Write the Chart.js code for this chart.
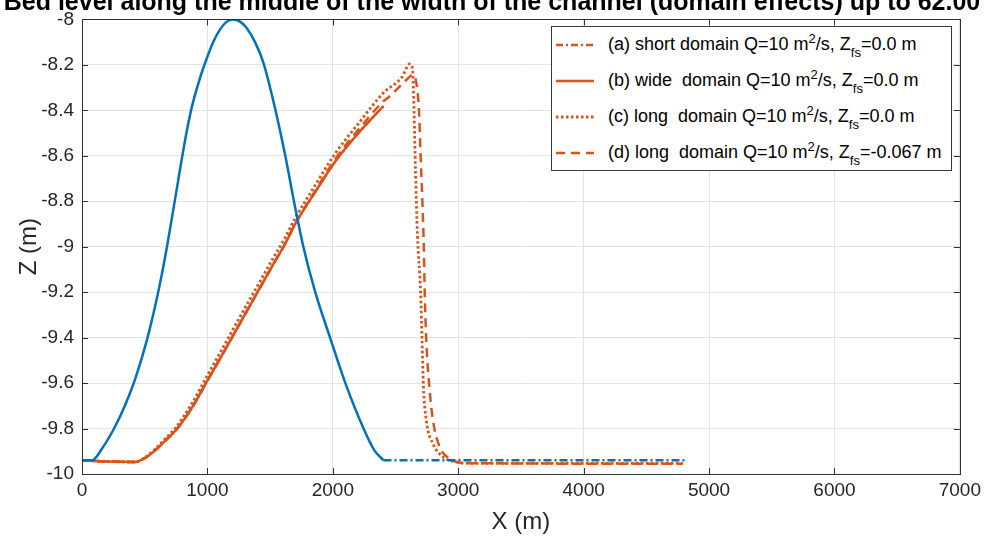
<!DOCTYPE html>
<html>
<head>
<meta charset="utf-8">
<script src="https://cdn.jsdelivr.net/npm/chart.js@4/dist/chart.umd.min.js"></script>
<style>
html,body{margin:0;padding:0;background:#fff;}
#wrap{position:relative;width:986px;height:538px;overflow:hidden;background:#fff;}
#c{position:absolute;left:0;top:0;}
#legend{position:absolute;left:551px;top:26px;width:401px;height:145px;border:1px solid #3a3a3a;background:#fff;box-sizing:border-box;font-family:"Liberation Sans",Arial,sans-serif;font-size:18px;color:#000;}
.row{position:absolute;left:0;width:100%;height:26px;}
.row svg{position:absolute;left:4px;top:5px;}
.row .t{position:absolute;left:56px;top:2px;white-space:pre;line-height:20px;}
.t sup{font-size:13px;vertical-align:0;position:relative;top:-7px;}
.t sub{font-size:13px;vertical-align:0;position:relative;top:7px;}
</style>
</head>
<body>
<div id="wrap">
<canvas id="c" width="986" height="538"></canvas>
<div id="legend"></div>
</div>
<script>
// ---- data ----
const xTicks = [0, 1000, 2000, 3000, 4000, 5000, 6000, 7000];
const zTicks = [-10, -9.8, -9.6, -9.4, -9.2, -9, -8.8, -8.6, -8.4, -8.2, -8];

// initial bed (blue), hump part
const initX = [0, 80, 160, 265, 345, 425, 518, 598, 668, 724, 762, 797, 836, 876, 934, 996, 1050, 1100, 1150, 1205, 1260, 1310, 1380, 1448, 1541, 1620, 1690, 1765, 1860, 1978, 2100, 2245, 2330, 2404];
const initZ = [-9.94, -9.94, -9.888, -9.79, -9.695, -9.58, -9.41, -9.225, -9.03, -8.85, -8.725, -8.61, -8.49, -8.385, -8.27, -8.17, -8.095, -8.045, -8.012, -8.0, -8.01, -8.036, -8.10, -8.193, -8.395, -8.597, -8.80, -9.0, -9.2, -9.4, -9.6, -9.8, -9.895, -9.94];
// initial bed (blue), flat downstream part
const initFlatX = [2404, 4805];
const initFlatZ = [-9.94, -9.94];

// (a) short domain
const shortX = [0, 200, 425, 500, 584, 660, 744, 876, 996, 1116, 1248, 1381, 1514, 1620, 1700, 1859, 2019, 2204, 2404];
const shortZ = [-9.94, -9.945, -9.947, -9.93, -9.896, -9.855, -9.81, -9.709, -9.593, -9.478, -9.348, -9.218, -9.088, -8.987, -8.90, -8.76, -8.625, -8.50, -8.381];

// (b) wide domain
const wideX = [0, 200, 425, 500, 584, 660, 744, 876, 996, 1116, 1248, 1381, 1514, 1620, 1700, 1859, 2019, 2204, 2404];
const wideZ = [-9.94, -9.945, -9.947, -9.93, -9.896, -9.855, -9.81, -9.709, -9.593, -9.478, -9.348, -9.218, -9.088, -8.987, -8.90, -8.76, -8.625, -8.50, -8.381];

// (c) long domain, Zfs = 0.0
const longX = [0, 200, 425, 500, 584, 660, 744, 876, 996, 1116, 1248, 1381, 1514, 1620, 1700, 1859, 2019, 2204, 2404, 2550, 2614, 2636, 2648, 2659, 2675, 2700, 2712, 2722, 2746, 2799, 2879, 2985, 3100, 4790];
const longZ = [-9.94, -9.945, -9.947, -9.928, -9.89, -9.847, -9.798, -9.69, -9.57, -9.452, -9.32, -9.19, -9.06, -8.96, -8.875, -8.73, -8.59, -8.458, -8.323, -8.255, -8.196, -8.22, -8.41, -8.66, -8.95, -9.2, -9.42, -9.607, -9.766, -9.867, -9.925, -9.947, -9.953, -9.953];

// (d) long domain, Zfs = -0.067
const longLowX = [0, 200, 425, 500, 584, 660, 744, 876, 996, 1116, 1248, 1381, 1514, 1620, 1700, 1859, 2019, 2204, 2404, 2454, 2574, 2640, 2661, 2688, 2699, 2712, 2725, 2733, 2746, 2773, 2799, 2853, 2932, 3040, 4790];
const longLowZ = [-9.94, -9.945, -9.947, -9.93, -9.896, -9.855, -9.81, -9.709, -9.593, -9.478, -9.348, -9.218, -9.088, -8.987, -8.90, -8.755, -8.615, -8.485, -8.36, -8.338, -8.273, -8.244, -8.265, -8.41, -8.583, -8.77, -8.987, -9.203, -9.42, -9.636, -9.766, -9.882, -9.932, -9.952, -9.955];

const legendLabels = [
  '(a) short domain Q=10 m<sup>2</sup>/s, Z<sub>fs</sub>=0.0 m',
  '(b) wide  domain Q=10 m<sup>2</sup>/s, Z<sub>fs</sub>=0.0 m',
  '(c) long  domain Q=10 m<sup>2</sup>/s, Z<sub>fs</sub>=0.0 m',
  '(d) long  domain Q=10 m<sup>2</sup>/s, Z<sub>fs</sub>=-0.067 m'
];
const titleText = 'Bed level along the middle of the width of the channel (domain effects) up to 62.00';

// ---- styling ----
const BLUE = '#0072BD';
const ORANGE = '#D95319';
const FONT = '"Liberation Sans", Arial, sans-serif';
const dashA = [7, 3, 2, 3];
const dashC = [2.5, 2.5];
const dashD = [9, 6];

function pts(xs, zs) { return xs.map((x, i) => ({x: x, y: zs[i]})); }

const datasets = [
  {data: pts(initX, initZ), borderColor: BLUE, borderWidth: 2.5},
  {data: pts(initFlatX, initFlatZ), borderColor: BLUE, borderWidth: 2.5, borderDash: [8, 3, 2, 3]},
  {data: pts(shortX, shortZ), borderColor: ORANGE, borderWidth: 2.5, borderDash: dashA},
  {data: pts(wideX, wideZ), borderColor: ORANGE, borderWidth: 2.5},
  {data: pts(longX, longZ), borderColor: ORANGE, borderWidth: 2.8, borderDash: dashC},
  {data: pts(longLowX, longLowZ), borderColor: ORANGE, borderWidth: 2.5, borderDash: dashD}
].map(d => Object.assign({fill: false, pointRadius: 0, cubicInterpolationMode: 'monotone', borderCapStyle: 'butt'}, d));

const framePlugin = {
  id: 'frame',
  afterDraw(chart) {
    const ctx = chart.ctx;
    const a = chart.chartArea;
    const xs = chart.scales.x, ys = chart.scales.y;
    ctx.save();
    ctx.strokeStyle = '#303030';
    ctx.lineWidth = 1;
    ctx.strokeRect(Math.round(a.left) + 0.5, Math.round(a.top) + 0.5, Math.round(a.right - a.left), Math.round(a.bottom - a.top));
    ctx.beginPath();
    xTicks.forEach(v => {
      const px = Math.round(xs.getPixelForValue(v)) + 0.5;
      ctx.moveTo(px, a.bottom); ctx.lineTo(px, a.bottom - 6);
      ctx.moveTo(px, a.top); ctx.lineTo(px, a.top + 6);
    });
    zTicks.forEach(v => {
      const py = Math.round(ys.getPixelForValue(v)) + 0.5;
      ctx.moveTo(a.left, py); ctx.lineTo(a.left + 6, py);
      ctx.moveTo(a.right, py); ctx.lineTo(a.right - 6, py);
    });
    ctx.stroke();
    // title (cut off by the top edge, as in the reference)
    ctx.fillStyle = '#000';
    ctx.font = 'bold 25px ' + FONT;
    ctx.textAlign = 'center';
    ctx.textBaseline = 'alphabetic';
    ctx.fillText(titleText, 492, 10);
    ctx.restore();
  }
};

const fmt = v => String(Number(Number(v).toFixed(1)));

new Chart(document.getElementById('c').getContext('2d'), {
  type: 'line',
  data: {datasets: datasets},
  options: {
    responsive: false,
    animation: false,
    layout: {padding: {top: 12, right: 26, left: 0, bottom: 0}},
    plugins: {legend: {display: false}, tooltip: {enabled: false}, title: {display: false}},
    scales: {
      x: {
        type: 'linear', min: 0, max: 7000,
        afterBuildTicks(s) { s.ticks = xTicks.map(v => ({value: v})); },
        ticks: {color: '#262626', font: {family: FONT, size: 19}, padding: 5, maxRotation: 0, autoSkip: false, callback: fmt},
        grid: {color: '#e4e4e4', drawTicks: false, lineWidth: 1},
        border: {display: false},
        title: {display: true, text: 'X (m)', color: '#262626', font: {family: FONT, size: 24}, padding: {top: 0, bottom: 1}},
        afterFit(s) { s.height = 64; }
      },
      y: {
        type: 'linear', min: -10, max: -8,
        afterBuildTicks(s) { s.ticks = zTicks.map(v => ({value: v})); },
        ticks: {color: '#262626', font: {family: FONT, size: 19}, padding: 8, autoSkip: false, callback: fmt},
        grid: {color: '#e4e4e4', drawTicks: false, lineWidth: 1},
        border: {display: false},
        title: {display: true, text: 'Z (m)', color: '#262626', font: {family: FONT, size: 24}, padding: {top: 15, bottom: 0}},
        afterFit(s) { s.width = 82; }
      }
    }
  },
  plugins: [framePlugin]
});

// ---- HTML legend (for super/subscripts) ----
const legendStyles = [
  {dash: '7,3,2,3', w: 2.5},
  {dash: '', w: 2.5},
  {dash: '2.5,2.5', w: 2.8},
  {dash: '9,6', w: 2.5}
];
const rowTops = [5, 41, 77, 113];
const lg = document.getElementById('legend');
legendLabels.forEach((txt, i) => {
  const r = document.createElement('div');
  r.className = 'row';
  r.style.top = rowTops[i] + 'px';
  const st = legendStyles[i];
  r.innerHTML = '<svg width="40" height="16"><line x1="0" y1="8" x2="38" y2="8" stroke="' + ORANGE + '" stroke-width="' + st.w + '"' + (st.dash ? ' stroke-dasharray="' + st.dash + '"' : '') + '/></svg><span class="t">' + txt + '</span>';
  lg.appendChild(r);
});
</script>
</body>
</html>
